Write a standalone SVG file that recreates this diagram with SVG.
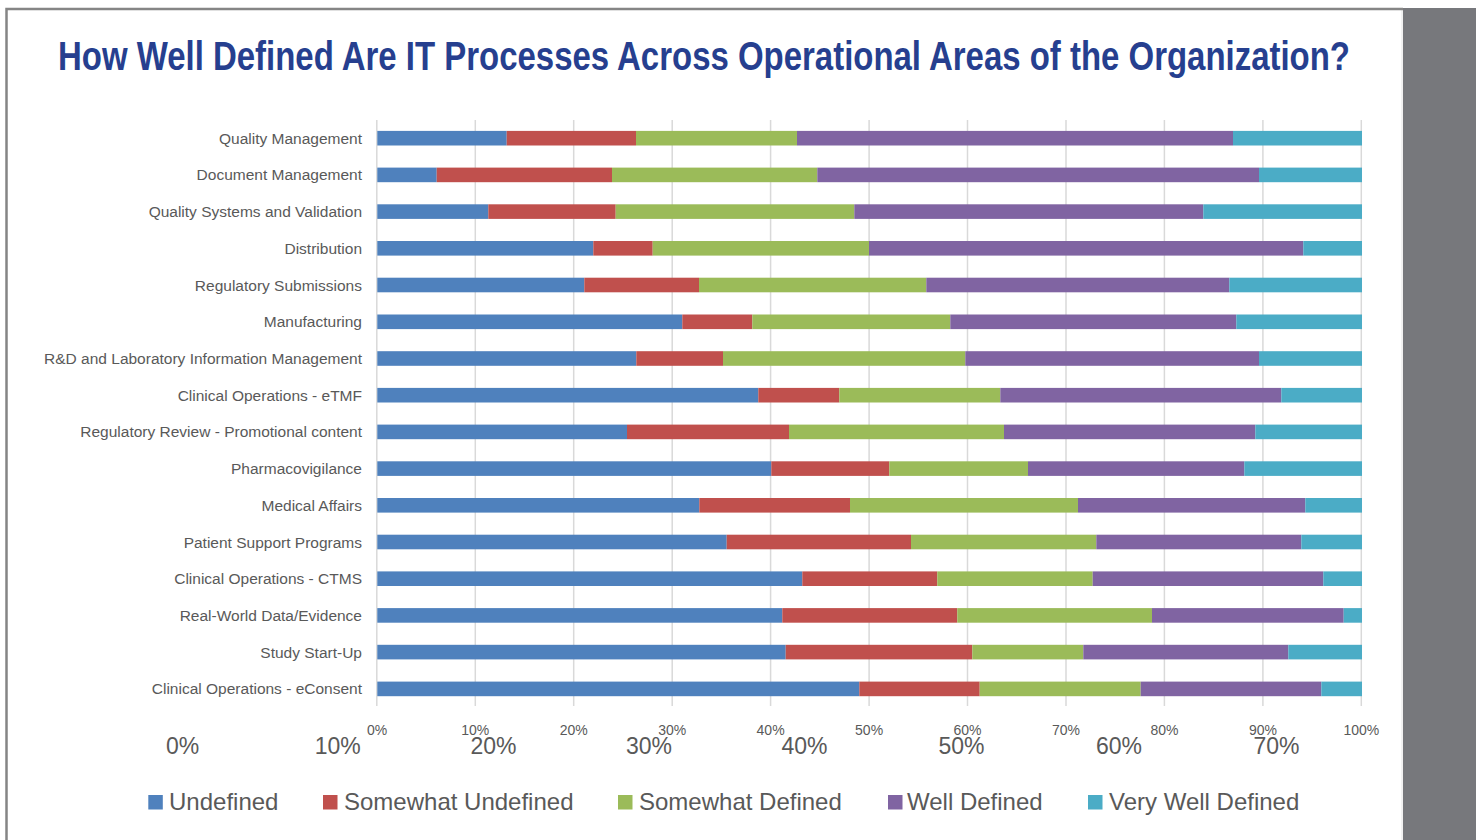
<svg xmlns="http://www.w3.org/2000/svg" width="1476" height="840" viewBox="0 0 1476 840">
<style>
.t{font-family:"Liberation Sans",Arial,sans-serif;font-weight:bold;fill:#263f8f}
.cat{font-family:"Liberation Sans",Arial,sans-serif;font-size:15.5px;fill:#595959;text-anchor:end}
.tick{font-family:"Liberation Sans",Arial,sans-serif;font-size:14px;fill:#595959;text-anchor:middle}
.big{font-family:"Liberation Sans",Arial,sans-serif;font-size:23px;fill:#595959;text-anchor:middle}
.leg{font-family:"Liberation Sans",Arial,sans-serif;font-size:24px;fill:#595959}
.grid{stroke:#d9d9d9;stroke-width:1.5}
.u{fill:#4f81bd}.su{fill:#c0504d}.sd{fill:#9bbb59}.wd{fill:#8064a2}.vw{fill:#4bacc6}
</style>
<rect x="0" y="0" width="1476" height="840" fill="#ffffff"/>
<rect x="1403" y="8" width="73" height="832" fill="#77787c"/>
<line x1="1402" y1="10" x2="1402" y2="840" stroke="#e4e4e4" stroke-width="1"/>
<path d="M6.5 840 V9 H1403" fill="none" stroke="#858585" stroke-width="2.5"/>
<text class="t" x="58" y="70" font-size="41" textLength="1292" lengthAdjust="spacingAndGlyphs">How Well Defined Are IT Processes Across Operational Areas of the Organization?</text>
<g id="gridlines">
<line class="grid" x1="376.8" y1="120" x2="376.8" y2="706"/>
<line class="grid" x1="475.3" y1="120" x2="475.3" y2="706"/>
<line class="grid" x1="573.7" y1="120" x2="573.7" y2="706"/>
<line class="grid" x1="672.2" y1="120" x2="672.2" y2="706"/>
<line class="grid" x1="770.6" y1="120" x2="770.6" y2="706"/>
<line class="grid" x1="869.1" y1="120" x2="869.1" y2="706"/>
<line class="grid" x1="967.5" y1="120" x2="967.5" y2="706"/>
<line class="grid" x1="1066" y1="120" x2="1066" y2="706"/>
<line class="grid" x1="1164.4" y1="120" x2="1164.4" y2="706"/>
<line class="grid" x1="1262.9" y1="120" x2="1262.9" y2="706"/>
<line class="grid" x1="1361.3" y1="120" x2="1361.3" y2="706"/>
</g>
<g id="connectors"></g>
<g id="row1"><text class="cat" x="362" y="143.7">Quality Management</text>
<rect class="u" x="377.3" y="130.9" width="129.4" height="14.6"/><rect class="su" x="506.7" y="130.9" width="129.3" height="14.6"/><rect class="sd" x="636" y="130.9" width="161" height="14.6"/><rect class="wd" x="797" y="130.9" width="436" height="14.6"/><rect class="vw" x="1233" y="130.9" width="129" height="14.6"/></g>
<g id="row2"><text class="cat" x="362" y="180.4">Document Management</text>
<rect class="u" x="377.3" y="167.6" width="59.4" height="14.6"/><rect class="su" x="436.7" y="167.6" width="175.3" height="14.6"/><rect class="sd" x="612" y="167.6" width="205.3" height="14.6"/><rect class="wd" x="817.3" y="167.6" width="441.7" height="14.6"/><rect class="vw" x="1259" y="167.6" width="103" height="14.6"/></g>
<g id="row3"><text class="cat" x="362" y="217.1">Quality Systems and Validation</text>
<rect class="u" x="377.3" y="204.3" width="111" height="14.6"/><rect class="su" x="488.3" y="204.3" width="127.4" height="14.6"/><rect class="sd" x="615.7" y="204.3" width="238.6" height="14.6"/><rect class="wd" x="854.3" y="204.3" width="349" height="14.6"/><rect class="vw" x="1203.3" y="204.3" width="158.7" height="14.6"/></g>
<g id="row4"><text class="cat" x="362" y="253.8">Distribution</text>
<rect class="u" x="377.3" y="241" width="216" height="14.6"/><rect class="su" x="593.3" y="241" width="59.4" height="14.6"/><rect class="sd" x="652.7" y="241" width="216.3" height="14.6"/><rect class="wd" x="869" y="241" width="434.3" height="14.6"/><rect class="vw" x="1303.3" y="241" width="58.7" height="14.6"/></g>
<g id="row5"><text class="cat" x="362" y="290.5">Regulatory Submissions</text>
<rect class="u" x="377.3" y="277.7" width="207" height="14.6"/><rect class="su" x="584.3" y="277.7" width="114.7" height="14.6"/><rect class="sd" x="699" y="277.7" width="227.3" height="14.6"/><rect class="wd" x="926.3" y="277.7" width="303" height="14.6"/><rect class="vw" x="1229.3" y="277.7" width="132.7" height="14.6"/></g>
<g id="row6"><text class="cat" x="362" y="327.3">Manufacturing</text>
<rect class="u" x="377.3" y="314.5" width="305" height="14.6"/><rect class="su" x="682.3" y="314.5" width="70" height="14.6"/><rect class="sd" x="752.3" y="314.5" width="198" height="14.6"/><rect class="wd" x="950.3" y="314.5" width="286" height="14.6"/><rect class="vw" x="1236.3" y="314.5" width="125.7" height="14.6"/></g>
<g id="row7"><text class="cat" x="362" y="364">R&amp;D and Laboratory Information Management</text>
<rect class="u" x="377.3" y="351.2" width="259" height="14.6"/><rect class="su" x="636.3" y="351.2" width="86.7" height="14.6"/><rect class="sd" x="723" y="351.2" width="242.3" height="14.6"/><rect class="wd" x="965.3" y="351.2" width="293.7" height="14.6"/><rect class="vw" x="1259" y="351.2" width="103" height="14.6"/></g>
<g id="row8"><text class="cat" x="362" y="400.7">Clinical Operations - eTMF</text>
<rect class="u" x="377.3" y="387.9" width="381" height="14.6"/><rect class="su" x="758.3" y="387.9" width="81" height="14.6"/><rect class="sd" x="839.3" y="387.9" width="161" height="14.6"/><rect class="wd" x="1000.3" y="387.9" width="281" height="14.6"/><rect class="vw" x="1281.3" y="387.9" width="80.7" height="14.6"/></g>
<g id="row9"><text class="cat" x="362" y="437.4">Regulatory Review - Promotional content</text>
<rect class="u" x="377.3" y="424.6" width="249.7" height="14.6"/><rect class="su" x="627" y="424.6" width="162" height="14.6"/><rect class="sd" x="789" y="424.6" width="215" height="14.6"/><rect class="wd" x="1004" y="424.6" width="251.3" height="14.6"/><rect class="vw" x="1255.3" y="424.6" width="106.7" height="14.6"/></g>
<g id="row10"><text class="cat" x="362" y="474.1">Pharmacovigilance</text>
<rect class="u" x="377.3" y="461.3" width="394" height="14.6"/><rect class="su" x="771.3" y="461.3" width="118" height="14.6"/><rect class="sd" x="889.3" y="461.3" width="138.7" height="14.6"/><rect class="wd" x="1028" y="461.3" width="216.3" height="14.6"/><rect class="vw" x="1244.3" y="461.3" width="117.7" height="14.6"/></g>
<g id="row11"><text class="cat" x="362" y="510.8">Medical Affairs</text>
<rect class="u" x="377.3" y="498" width="322" height="14.6"/><rect class="su" x="699.3" y="498" width="150.7" height="14.6"/><rect class="sd" x="850" y="498" width="228" height="14.6"/><rect class="wd" x="1078" y="498" width="227.3" height="14.6"/><rect class="vw" x="1305.3" y="498" width="56.7" height="14.6"/></g>
<g id="row12"><text class="cat" x="362" y="547.5">Patient Support Programs</text>
<rect class="u" x="377.3" y="534.7" width="349.4" height="14.6"/><rect class="su" x="726.7" y="534.7" width="184.3" height="14.6"/><rect class="sd" x="911" y="534.7" width="185.3" height="14.6"/><rect class="wd" x="1096.3" y="534.7" width="205" height="14.6"/><rect class="vw" x="1301.3" y="534.7" width="60.7" height="14.6"/></g>
<g id="row13"><text class="cat" x="362" y="584.2">Clinical Operations - CTMS</text>
<rect class="u" x="377.3" y="571.4" width="425" height="14.6"/><rect class="su" x="802.3" y="571.4" width="135" height="14.6"/><rect class="sd" x="937.3" y="571.4" width="155.4" height="14.6"/><rect class="wd" x="1092.7" y="571.4" width="230.6" height="14.6"/><rect class="vw" x="1323.3" y="571.4" width="38.7" height="14.6"/></g>
<g id="row14"><text class="cat" x="362" y="620.9">Real-World Data/Evidence</text>
<rect class="u" x="377.3" y="608.1" width="405" height="14.6"/><rect class="su" x="782.3" y="608.1" width="175" height="14.6"/><rect class="sd" x="957.3" y="608.1" width="194.7" height="14.6"/><rect class="wd" x="1152" y="608.1" width="191.7" height="14.6"/><rect class="vw" x="1343.7" y="608.1" width="18.3" height="14.6"/></g>
<g id="row15"><text class="cat" x="362" y="657.6">Study Start-Up</text>
<rect class="u" x="377.3" y="644.8" width="408.4" height="14.6"/><rect class="su" x="785.7" y="644.8" width="186.6" height="14.6"/><rect class="sd" x="972.3" y="644.8" width="111" height="14.6"/><rect class="wd" x="1083.3" y="644.8" width="205" height="14.6"/><rect class="vw" x="1288.3" y="644.8" width="73.7" height="14.6"/></g>
<g id="row16"><text class="cat" x="362" y="694.4">Clinical Operations - eConsent</text>
<rect class="u" x="377.3" y="681.6" width="482" height="14.6"/><rect class="su" x="859.3" y="681.6" width="120.4" height="14.6"/><rect class="sd" x="979.7" y="681.6" width="161" height="14.6"/><rect class="wd" x="1140.7" y="681.6" width="180.6" height="14.6"/><rect class="vw" x="1321.3" y="681.6" width="40.7" height="14.6"/></g>
<g id="axis-ticks">
<text class="tick" x="377" y="735">0%</text>
<text class="tick" x="475.3" y="735">10%</text>
<text class="tick" x="573.7" y="735">20%</text>
<text class="tick" x="672.2" y="735">30%</text>
<text class="tick" x="770.6" y="735">40%</text>
<text class="tick" x="869.1" y="735">50%</text>
<text class="tick" x="967.5" y="735">60%</text>
<text class="tick" x="1066" y="735">70%</text>
<text class="tick" x="1164.4" y="735">80%</text>
<text class="tick" x="1262.9" y="735">90%</text>
<text class="tick" x="1361.3" y="735">100%</text>
</g>
<g id="axis-big">
<text class="big" x="182.5" y="754">0%</text>
<text class="big" x="337.8" y="754">10%</text>
<text class="big" x="493.5" y="754">20%</text>
<text class="big" x="649" y="754">30%</text>
<text class="big" x="804.5" y="754">40%</text>
<text class="big" x="961.5" y="754">50%</text>
<text class="big" x="1119" y="754">60%</text>
<text class="big" x="1276.5" y="754">70%</text>
</g>
<g id="legend">
<rect class="u" x="148.3" y="795" width="14.5" height="14.5"/><text class="leg" x="169" y="810">Undefined</text>
<rect class="su" x="323" y="795" width="14.5" height="14.5"/><text class="leg" x="344" y="810">Somewhat Undefined</text>
<rect class="sd" x="618" y="795" width="14.5" height="14.5"/><text class="leg" x="639" y="810">Somewhat Defined</text>
<rect class="wd" x="888" y="795" width="14.5" height="14.5"/><text class="leg" x="907" y="810">Well Defined</text>
<rect class="vw" x="1088" y="795" width="14.5" height="14.5"/><text class="leg" x="1109" y="810">Very Well Defined</text>
</g>
</svg>
